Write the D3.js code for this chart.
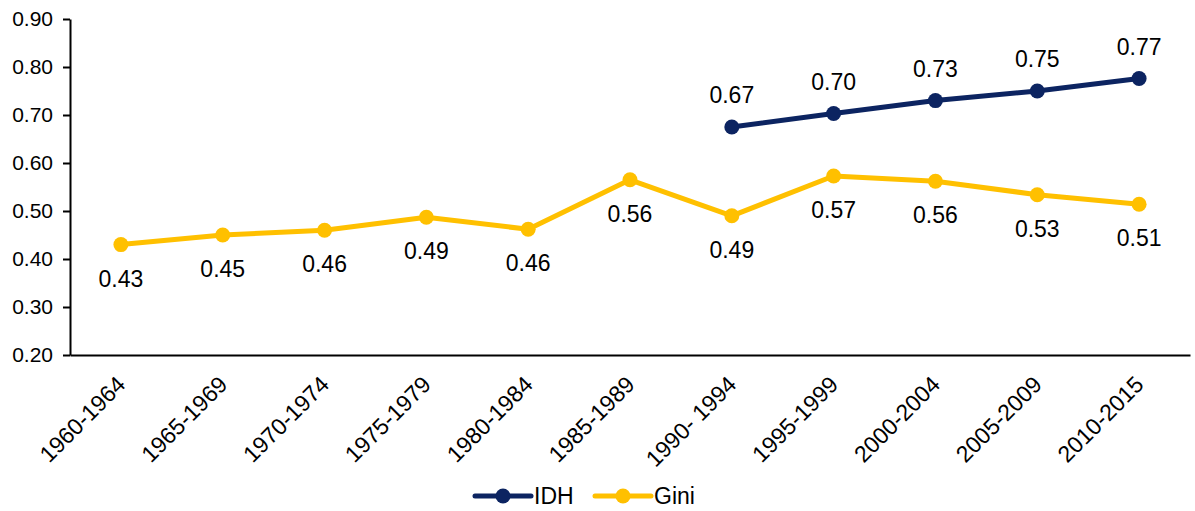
<!DOCTYPE html>
<html><head><meta charset="utf-8">
<script src="https://cdn.jsdelivr.net/npm/d3@7"></script>
<style>body{margin:0;background:#fff}svg{display:block;font-family:"Liberation Sans",Arial,sans-serif}</style>
</head><body><svg id="c" width="1195" height="511"></svg>
<script>
const categories = ["1960-1964","1965-1969","1970-1974","1975-1979","1980-1984","1985-1989","1990- 1994","1995-1999","2000-2004","2005-2009","2010-2015"];
const giniValues = [0.43,0.45,0.46,0.487,0.462,0.565,0.49,0.573,0.562,0.534,0.514];
const giniLabels = ["0.43","0.45","0.46","0.49","0.46","0.56","0.49","0.57","0.56","0.53","0.51"];
const idhValues = [null,null,null,null,null,null,0.675,0.703,0.73,0.75,0.776];
const idhLabels = [null,null,null,null,null,null,"0.67","0.70","0.73","0.75","0.77"];
const yTicks = [0.2,0.3,0.4,0.5,0.6,0.7,0.8,0.9];
const navy = "#0c2461", gold = "#ffc000";

const svg = d3.select("#c");
const L = 70, R = 1190, T = 19, B = 355;
const x = d3.scaleBand().domain(categories).range([L, R]);
const y = d3.scaleLinear().domain([0.2, 0.9]).range([B, T]);

// y axis
const ya = svg.append("g").attr("transform", `translate(${L},0)`)
  .call(d3.axisLeft(y).tickValues(yTicks).tickFormat(d3.format(".2f")).tickSize(7).tickSizeOuter(0));
ya.select(".domain").attr("stroke", "#000").attr("stroke-width", 2);
ya.selectAll(".tick line").attr("stroke", "#000").attr("stroke-width", 2);
ya.selectAll(".tick text").attr("font-size", 21).attr("fill", "#000").attr("x", -17);

// x axis
const xa = svg.append("g").attr("transform", `translate(0,${B})`)
  .call(d3.axisBottom(x).tickSize(0).tickSizeOuter(0));
xa.select(".domain").attr("stroke", "#000").attr("stroke-width", 2);
xa.selectAll(".tick text").attr("font-size", 23).attr("fill", "#000")
  .attr("text-anchor", "end").attr("dy", 0).attr("y", 0)
  .attr("transform", "translate(6,31) rotate(-45)");

const cx = d => x(d) + x.bandwidth() / 2;

function series(vals, labels, color, dy) {
  const pts = categories.map((c, i) => ({c, v: vals[i], l: labels[i]})).filter(p => p.v != null);
  svg.append("path").datum(pts)
    .attr("fill", "none").attr("stroke", color).attr("stroke-width", 5).attr("stroke-linejoin", "round")
    .attr("d", d3.line().x(p => cx(p.c)).y(p => y(p.v)));
  svg.selectAll(null).data(pts).enter().append("circle")
    .attr("cx", p => cx(p.c)).attr("cy", p => y(p.v)).attr("r", 7.5).attr("fill", color);
  svg.selectAll(null).data(pts).enter().append("text")
    .attr("x", p => cx(p.c)).attr("y", p => y(p.v) + dy)
    .attr("text-anchor", "middle").attr("font-size", 23).attr("fill", "#000").text(p => p.l);
}
series(giniValues, giniLabels, gold, 42);
series(idhValues, idhLabels, navy, -24);

// legend
const leg = [{n: "IDH", c: navy, x: 475}, {n: "Gini", c: gold, x: 595}];
leg.forEach(d => {
  const g = svg.append("g");
  g.append("line").attr("x1", d.x).attr("x2", d.x + 56).attr("y1", 496).attr("y2", 496)
    .attr("stroke", d.c).attr("stroke-width", 5).attr("stroke-linecap", "round");
  g.append("circle").attr("cx", d.x + 28).attr("cy", 496).attr("r", 7.5).attr("fill", d.c);
  g.append("text").attr("x", d.x + 59).attr("y", 504).attr("font-size", 23).attr("fill", "#000").text(d.n);
});
</script></body></html>
